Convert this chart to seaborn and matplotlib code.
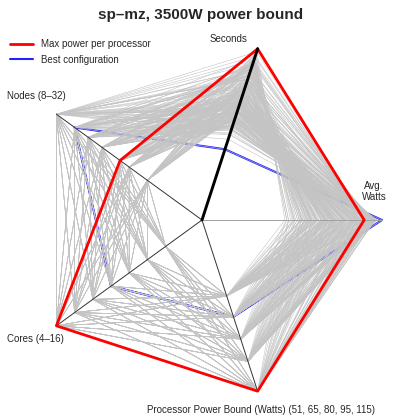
import matplotlib
matplotlib.use("Agg")
import matplotlib.pyplot as plt
import seaborn as sns
import pandas as pd
import numpy as np

sns.set_style("white")
plt.rcParams["font.family"] = ["Liberation Sans", "DejaVu Sans"]

# star axes, clockwise from the top (angles in degrees)
axis_keys = ["seconds", "watts", "ppb", "cores", "nodes"]
axis_angles = [72, 0, -72, -144, 144]

ppb_levels = [51, 65, 80, 95, 115]
node_levels = [12, 16, 18, 22, 25, 28, 32]
core_levels = [4, 6, 8, 10, 12, 14, 16]

# run time (s): rows = node_levels, cols = core_levels, one table per power bound
seconds = {
    51: [[98.6, 91.2, 86.3, 83.1, 81.4, 80.2, 79.5],
         [96.8, 88.4, 83.2, 79.6, 77.8, 76.5, 76.0],
         [95.1, 86.1, 80.2, 76.5, 74.3, 73.4, 73.6],
         [93.2, 83.0, 76.8, 72.9, 70.8, 70.4, 71.1],
         [91.6, 80.7, 74.1, 70.2, 68.3, 68.5, 69.6],
         [90.2, 78.3, 71.4, 67.3, 66.1, 66.9, 68.2],
         [88.3, 75.4, 68.2, 64.4, 65.0, 66.8, 69.1]],
    65: [[96.2, 85.7, 78.4, 73.6, 70.9, 69.4, 68.8],
         [94.1, 82.3, 74.6, 68.8, 65.7, 64.2, 63.9],
         [92.3, 79.8, 70.2, 64.1, 61.3, 60.1, 60.4],
         [90.4, 75.6, 66.9, 59.7, 56.2, 55.3, 56.8],
         [88.7, 72.9, 63.1, 53.4, 51.2, 52.6, 55.1],
         [86.4, 69.8, 58.1, 41.3, 47.2, 49.8, 52.1],
         [84.2, 66.3, 56.3, 50.1, 53.2, 57.4, 61.4]],
    80: [[95.3, 83.1, 74.2, 69.3, 66.0, 63.8, 62.9],
         [93.0, 79.4, 69.8, 63.5, 60.2, 58.9, 59.6],
         [91.2, 76.5, 66.1, 58.3, 55.2, 55.9, 58.4],
         [89.0, 72.8, 62.7, 55.4, 54.8, 59.6, 63.7],
         [87.6, 70.1, 58.9, 53.0, 57.5, 63.4, 69.2],
         [85.1, 67.2, 55.4, 54.2, 63.3, 68.9, 74.1],
         [83.2, 64.5, 53.1, 60.3, 71.2, 77.0, 82.4]],
    95: [[94.1, 81.6, 72.3, 67.1, 63.9, 61.8, 61.5],
         [92.2, 77.9, 67.4, 61.0, 58.3, 59.4, 63.2],
         [90.3, 74.8, 64.1, 56.4, 58.2, 62.5, 67.3],
         [88.4, 71.3, 60.6, 56.9, 62.8, 69.1, 73.8],
         [86.9, 68.6, 57.2, 60.4, 67.5, 74.2, 80.3],
         [84.3, 66.0, 54.2, 63.1, 74.3, 80.6, 86.1],
         [82.1, 63.8, 57.4, 70.2, 82.1, 88.0, 93.3]],
    115: [[94.4, 80.9, 71.2, 65.8, 63.3, 62.6, 64.0],
          [92.0, 77.2, 68.0, 64.1, 67.8, 73.9, 80.1],
          [90.1, 74.1, 66.2, 72.1, 85.3, 92.6, 100.0],
          [88.2, 71.0, 62.4, 68.3, 78.1, 85.4, 91.7],
          [86.3, 68.4, 59.2, 64.3, 75.1, 82.0, 88.2],
          [84.1, 66.9, 60.3, 71.4, 84.2, 90.5, 95.1],
          [82.4, 65.6, 64.1, 78.3, 91.2, 95.8, 98.3]],
}

# average watts, same layout
watts = {
    51: [[1610, 1790, 1925, 2030, 2100, 2140, 2170],
         [1720, 1950, 2120, 2240, 2320, 2370, 2410],
         [1820, 2060, 2205, 2345, 2450, 2490, 2520],
         [1930, 2230, 2400, 2540, 2650, 2720, 2760],
         [2040, 2380, 2590, 2730, 2840, 2900, 2950],
         [2205, 2540, 2765, 2940, 3045, 3100, 3150],
         [2380, 2750, 3010, 3185, 3290, 3330, 3360]],
    65: [[1645, 1860, 2065, 2240, 2345, 2390, 2415],
         [1750, 2010, 2230, 2420, 2540, 2610, 2650],
         [1855, 2120, 2380, 2590, 2730, 2770, 2800],
         [1960, 2310, 2580, 2800, 2960, 3040, 3090],
         [2080, 2480, 2760, 3130, 3210, 3250, 3280],
         [2240, 2650, 3010, 3496, 3360, 3380, 3395],
         [2450, 2880, 3255, 3395, 3360, 3340, 3325]],
    80: [[1645, 1900, 2135, 2380, 2555, 2620, 2660],
         [1770, 2060, 2330, 2590, 2790, 2880, 2920],
         [1890, 2200, 2485, 2765, 2975, 3040, 3080],
         [1990, 2390, 2690, 2990, 3220, 3290, 3310],
         [2100, 2560, 2900, 3230, 3340, 3330, 3320],
         [2275, 2740, 3115, 3395, 3360, 3310, 3290],
         [2485, 2960, 3325, 3360, 3290, 3250, 3220]],
    95: [[1680, 1940, 2170, 2450, 2695, 2780, 2835],
         [1790, 2100, 2380, 2680, 2930, 3060, 3120],
         [1890, 2240, 2520, 2870, 3115, 3200, 3255],
         [2000, 2420, 2740, 3110, 3350, 3370, 3340],
         [2100, 2590, 2950, 3300, 3380, 3340, 3310],
         [2310, 2780, 3185, 3395, 3325, 3290, 3255],
         [2520, 3000, 3360, 3325, 3255, 3220, 3185]],
    115: [[1680, 1970, 2205, 2520, 2800, 2920, 3010],
          [1800, 2140, 2420, 2760, 3020, 3110, 3150],
          [1925, 2270, 2555, 2940, 3080, 3120, 3150],
          [2030, 2450, 2780, 3200, 3330, 3300, 3260],
          [2135, 2620, 2905, 3290, 3360, 3300, 3255],
          [2310, 2810, 3220, 3360, 3290, 3230, 3185],
          [2520, 3030, 3360, 3290, 3220, 3180, 3150]],
}

# highlighted configurations (nodes, cores, ppb)
red_cfg = (18, 16, 115)
blue_cfg = (28, 10, 65)

rows = []
for p in ppb_levels:
    for i, n in enumerate(node_levels):
        for j, c in enumerate(core_levels):
            rows.append({"nodes": n, "cores": c, "ppb": p,
                         "seconds": seconds[p][i][j], "watts": watts[p][i][j]})
configs = pd.DataFrame(rows)
norm = configs[axis_keys] / configs[axis_keys].max()

def star_points(df_norm, ids):
    pts = []
    for cid in ids:
        r = df_norm.loc[cid]
        for k, key in enumerate(axis_keys + [axis_keys[0]]):
            a = np.deg2rad(axis_angles[k % 5])
            pts.append({"cfg": cid, "k": k, "x": r[key] * np.cos(a), "y": r[key] * np.sin(a)})
    return pd.DataFrame(pts)

def find(cfg):
    m = (configs.nodes == cfg[0]) & (configs.cores == cfg[1]) & (configs.ppb == cfg[2])
    return configs.index[m][0]

grey = star_points(norm, configs.index)
red = star_points(norm, [find(red_cfg)])
blue = star_points(norm, [find(blue_cfg)])

fig = plt.figure(figsize=(3.98, 4.19), dpi=100)
ax = fig.add_axes([0, 0, 1, 1])

sns.lineplot(data=blue, x="x", y="y", units="cfg", estimator=None, sort=False,
             color="#2222ff", linewidth=1.5, ax=ax, label="Best configuration")
sns.lineplot(data=grey, x="x", y="y", units="cfg", estimator=None, sort=False,
             color="#c4c4c4", linewidth=0.4, ax=ax, legend=False)

# axis spokes
for key, a in zip(axis_keys, axis_angles):
    if key == "seconds":
        continue
    rad = np.deg2rad(a)
    col = "#a0a0a0" if key == "watts" else "#333333"
    ax.plot([0, np.cos(rad)], [0, np.sin(rad)], color=col, lw=0.7)

sns.lineplot(data=red, x="x", y="y", units="cfg", estimator=None, sort=False,
             color="#ff0000", linewidth=2.0, ax=ax, label="Max power per processor")
rad = np.deg2rad(72)
ax.plot([0, np.cos(rad)], [0, np.sin(rad)], color="black", lw=2.1)

# axis labels
ax.text(0.15, 1.006, "Seconds", fontsize=7, ha="center", va="center")
ax.text(0.955, 0.158, "Avg.\nWatts", fontsize=7, ha="center", va="center", linespacing=1.15)
ax.text(0.328, -1.056, "Processor Power Bound (Watts) (51, 65, 80, 95, 115)",
        fontsize=7, ha="center", va="center")
ax.text(-0.928, -0.661, "Cores (4\u201316)", fontsize=7, ha="center", va="center")
ax.text(-0.922, 0.689, "Nodes (8\u201332)", fontsize=7, ha="center", va="center")

fig.text(0.505, 0.965, "sp\u2013mz, 3500W power bound", fontsize=11, fontweight="bold",
         ha="center", va="center")

h, l = ax.get_legend_handles_labels()
order = [l.index("Max power per processor"), l.index("Best configuration")]
ax.legend([h[o] for o in order], [l[o] for o in order], loc="upper left",
          bbox_to_anchor=(0.025, 0.907), bbox_transform=fig.transFigure,
          frameon=False, fontsize=7, handlelength=2.4, handletextpad=0.8,
          labelspacing=0.6, borderpad=0, borderaxespad=0)

ax.set_xlim(-202 / 180, 196 / 180)
ax.set_ylim(-199 / 180, 220 / 180)
ax.set_axis_off()

fig.savefig("out.png", dpi=100)
